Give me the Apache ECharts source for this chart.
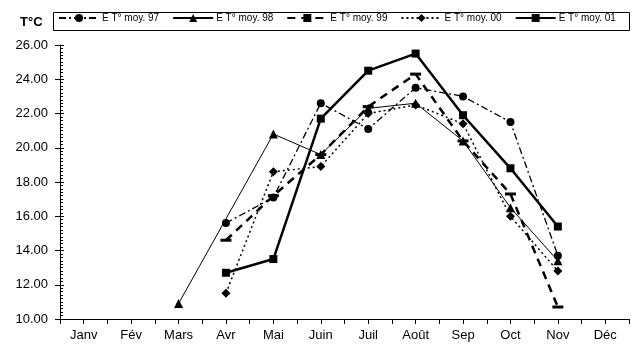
<!DOCTYPE html>
<html><head><meta charset="utf-8">
<script src="https://cdn.jsdelivr.net/npm/echarts@6/dist/echarts.min.js"></script>
<style>html,body{margin:0;padding:0;background:#fff}#c{width:632px;height:344px}</style>
</head><body><div id="c"></div>
<script>
const months = ['Janv','Fév','Mars','Avr','Mai','Juin','Juil','Août','Sep','Oct','Nov','Déc'];
const yTicks = ['10.00','12.00','14.00','16.00','18.00','20.00','22.00','24.00','26.00'];
const names = ['E T° moy. 97','E T° moy. 98','E T° moy. 99','E T° moy. 00','E T° moy. 01'];
const t97 = [null,null,null,15.6,17.1,22.6,21.1,23.5,23.0,21.5,13.7,null];
const t98 = [null,null,10.9,null,20.8,19.6,22.3,22.6,20.4,16.5,13.4,null];
const t99 = [null,null,null,14.6,17.2,19.6,22.4,24.3,20.4,17.3,10.7,null];
const t00 = [null,null,null,11.5,18.6,18.9,22.0,22.5,21.4,16.0,12.8,null];
const t01 = [null,null,null,12.7,13.5,21.7,24.5,25.5,21.9,18.8,15.4,null];

const FONT = 'Liberation Sans, Arial, sans-serif';
function pts(arr){ const o=[]; arr.forEach((v,i)=>{ if(v!==null) o.push([i+0.5,v]); }); return o; }

const styles = [
  {symbol:'circle', symbolSize:8, lineStyle:{width:1.3,type:[7,3,2,3]}},
  {symbol:'triangle', symbolSize:9, lineStyle:{width:1,type:'solid'}},
  {symbol:'rect', symbolSize:[11,3], lineStyle:{width:2.5,type:[8,6]}},
  {symbol:'diamond', symbolSize:9, lineStyle:{width:1.5,type:[2,3]}},
  {symbol:'rect', symbolSize:8, lineStyle:{width:2.5,type:'solid'}}
];
const datas = [t97,t98,t99,t00,t01];

const series = datas.map((d,k)=>({
  name: names[k], type:'line', data: pts(d), symbol: styles[k].symbol, symbolSize: styles[k].symbolSize,
  showAllSymbol:true, animation:false,
  itemStyle:{color:'#000'}, lineStyle:Object.assign({color:'#000'},styles[k].lineStyle)
}));

const chart = echarts.init(document.getElementById('c'), null, {renderer:'canvas'});
chart.setOption({
  animation:false,
  backgroundColor:'#fff',
  textStyle:{fontFamily:FONT},
  title:{text:'T°C', left:15, top:11, textStyle:{fontFamily:FONT,fontSize:13,fontWeight:'bold',color:'#000'}},
  graphic:[{type:'rect', shape:{x:53.5,y:12.5,width:576,height:18}, style:{fill:'none',stroke:'#000',lineWidth:1}}],
  legend:{left:58, top:13, width:600, padding:0, itemWidth:40, itemHeight:10, itemGap:13,
    textStyle:{fontFamily:FONT,fontSize:10,color:'#000',padding:[0,0,0,-2]}, data:names},
  grid:{left:60, top:45, width:576, height:274},
  xAxis:{type:'value', min:0, max:12, interval:0.5,
    axisLine:{lineStyle:{color:'#000',width:1}},
    axisTick:{show:true,length:5,lineStyle:{color:'#000'}},
    splitLine:{show:false},
    axisLabel:{color:'#000',fontFamily:FONT,fontSize:13,margin:10,
      formatter:v=>{ const f=v-Math.floor(v); return Math.abs(f-0.5)<1e-6 ? months[Math.floor(v)] : ''; }}},
  yAxis:[{type:'value', min:10, max:26, interval:2,
    axisLine:{show:true,lineStyle:{color:'#000',width:1}},
    axisTick:{show:true,length:5,lineStyle:{color:'#000'}},
    splitLine:{show:false},
    axisLabel:{color:'#000',fontFamily:FONT,fontSize:13,margin:12,
      formatter:v=>yTicks[Math.round((v-10)/2)]}},
   {type:'value', min:10, max:26, interval:2, position:'left',
    axisLine:{show:false},
    axisTick:{show:true,inside:true,length:4,lineStyle:{color:'#000'}},
    minorTick:{show:true,splitNumber:10,length:3,lineStyle:{color:'#000'}},
    splitLine:{show:false}, axisLabel:{show:false}}],
  series: series
});
</script></body></html>
